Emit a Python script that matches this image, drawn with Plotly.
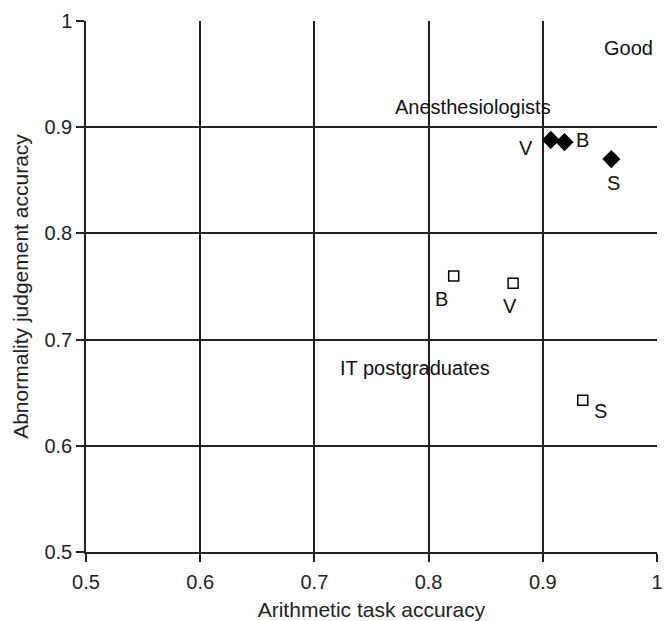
import plotly.graph_objects as go

# Data
groups = ["Anesthesiologists", "IT postgraduates"]
anes_labels = ["V", "B", "S"]
anes_x = [0.907, 0.919, 0.960]
anes_y = [0.888, 0.886, 0.870]
it_labels = ["B", "V", "S"]
it_x = [0.822, 0.874, 0.935]
it_y = [0.760, 0.753, 0.643]
tick_vals = [0.5, 0.6, 0.7, 0.8, 0.9, 1.0]
tick_text = ["0.5", "0.6", "0.7", "0.8", "0.9", "1"]

FONT = "Liberation Sans, Arial, sans-serif"
LAB = 20

fig = go.Figure()
fig.add_trace(go.Scatter(x=anes_x, y=anes_y, mode="markers",
                         marker=dict(symbol="diamond", size=14, color="black"),
                         showlegend=False, cliponaxis=False))
fig.add_trace(go.Scatter(x=it_x, y=it_y, mode="markers",
                         marker=dict(symbol="square-open", size=10, color="black",
                                     line=dict(width=1.5, color="black")),
                         showlegend=False, cliponaxis=False))

# point label offsets (pixels)
anes_off = {"V": (-25, -8), "B": (18, 2), "S": (2, -24)}
it_off = {"B": (-12, -23), "V": (-3, -23), "S": (18, -11)}
for lab, x, y in zip(anes_labels, anes_x, anes_y):
    dx, dy = anes_off[lab]
    fig.add_annotation(x=x, y=y, text=lab, showarrow=False, xshift=dx, yshift=dy,
                       font=dict(size=LAB, color="#111", family=FONT))
for lab, x, y in zip(it_labels, it_x, it_y):
    dx, dy = it_off[lab]
    fig.add_annotation(x=x, y=y, text=lab, showarrow=False, xshift=dx, yshift=dy,
                       font=dict(size=LAB, color="#111", family=FONT))

fig.add_annotation(x=0.839, y=0.919, text=groups[0], showarrow=False,
                   font=dict(size=LAB, color="#111", family=FONT))
fig.add_annotation(x=0.788, y=0.673, text=groups[1], showarrow=False,
                   font=dict(size=LAB, color="#111", family=FONT))
fig.add_annotation(x=0.975, y=0.975, text="Good", showarrow=False,
                   font=dict(size=LAB, color="#111", family=FONT))

axis_common = dict(range=[0.5, 1.0], tickvals=tick_vals, ticktext=tick_text,
                   showgrid=True, gridcolor="#222", gridwidth=1.5,
                   zeroline=False, showline=True, linecolor="#222", linewidth=1.5,
                   ticks="outside", ticklen=8, tickcolor="#222", tickwidth=1.5,
                   tickfont=dict(size=20, color="#222", family=FONT),
                   ticklabeloverflow="allow", automargin=False,
                   mirror=False)

fig.update_xaxes(**axis_common, ticklabelstandoff=3,
                 title=dict(text="Arithmetic task accuracy", standoff=12,
                            font=dict(size=21, color="#222", family=FONT)))
fig.update_yaxes(**axis_common,
                 title=dict(text="Abnormality judgement accuracy", standoff=10,
                            font=dict(size=21, color="#222", family=FONT)))

fig.update_layout(width=664, height=621,
                  margin=dict(l=86, r=7, t=21, b=69),
                  plot_bgcolor="white", paper_bgcolor="white",
                  font=dict(family=FONT))

fig.write_html("out.html", config={"displayModeBar": False},
               post_script="document.body.style.margin='0';document.body.style.overflow='hidden';")
